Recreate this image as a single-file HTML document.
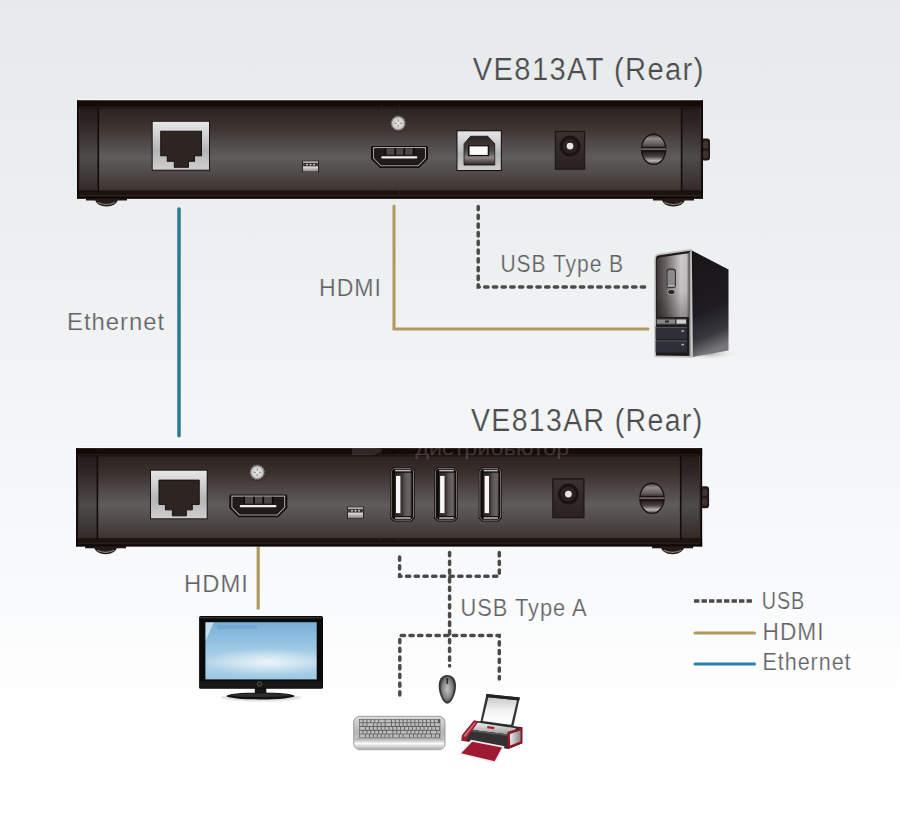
<!DOCTYPE html>
<html><head><meta charset="utf-8"><title>VE813 diagram</title>
<style>html,body{margin:0;padding:0;background:#fff;overflow:hidden}svg{display:block}</style>
</head><body><svg width="900" height="817" viewBox="0 0 900 817"><defs>
<linearGradient id="bg" x1="0" y1="0" x2="0" y2="1">
 <stop offset="0" stop-color="#e7eaeb"/><stop offset="0.3" stop-color="#edf0f0"/><stop offset="0.55" stop-color="#f4f6f7"/><stop offset="0.75" stop-color="#fafbfc"/><stop offset="0.87" stop-color="#ffffff"/><stop offset="1" stop-color="#ffffff"/>
</linearGradient>
<linearGradient id="bodyg" x1="0" y1="0" x2="0" y2="1">
 <stop offset="0.08" stop-color="#2c2220"/><stop offset="0.25" stop-color="#3a302e"/><stop offset="0.42" stop-color="#4e4846"/><stop offset="0.58" stop-color="#5f5c5b"/><stop offset="0.72" stop-color="#524d4b"/><stop offset="0.85" stop-color="#463c3a"/><stop offset="0.92" stop-color="#3d3331"/>
</linearGradient>
<linearGradient id="capg" x1="0" y1="0" x2="0" y2="1">
 <stop offset="0.08" stop-color="#241a18"/><stop offset="0.3" stop-color="#332927"/><stop offset="0.58" stop-color="#4d4846"/><stop offset="0.8" stop-color="#3a302e"/><stop offset="0.92" stop-color="#2a201e"/>
</linearGradient>
<linearGradient id="silverg" x1="0" y1="0" x2="0" y2="1">
 <stop offset="0" stop-color="#e6e6e6"/><stop offset="0.3" stop-color="#d0d0d0"/><stop offset="0.6" stop-color="#b4b4b4"/><stop offset="1" stop-color="#cfcfcf"/>
</linearGradient>
<linearGradient id="usbbg" x1="0" y1="0" x2="0" y2="1">
 <stop offset="0" stop-color="#2a2220"/><stop offset="0.5" stop-color="#4a4644"/><stop offset="0.75" stop-color="#8a8684"/><stop offset="1" stop-color="#2a2220"/>
</linearGradient>
<linearGradient id="jackg" x1="0" y1="0" x2="0" y2="1">
 <stop offset="0" stop-color="#3a3230"/><stop offset="1" stop-color="#2a2220"/>
</linearGradient>
<linearGradient id="usbag" x1="0" y1="0" x2="1" y2="0">
 <stop offset="0" stop-color="#2a2422"/><stop offset="0.45" stop-color="#3a3432"/><stop offset="0.6" stop-color="#5a5452"/><stop offset="0.85" stop-color="#6a6462"/><stop offset="1" stop-color="#3a3432"/>
</linearGradient>
<radialGradient id="screwg" cx="0.5" cy="0.5" r="0.55">
 <stop offset="0" stop-color="#eeeeee"/><stop offset="0.75" stop-color="#cfcdcb"/><stop offset="1" stop-color="#8a8684"/>
</radialGradient>
<linearGradient id="bigscrewg" x1="0" y1="0" x2="0" y2="1">
 <stop offset="0" stop-color="#4a4240"/><stop offset="0.12" stop-color="#8e8a88"/><stop offset="0.3" stop-color="#6a6462"/><stop offset="0.44" stop-color="#3e3634"/><stop offset="0.56" stop-color="#1e1614"/><stop offset="0.75" stop-color="#4a4442"/><stop offset="0.9" stop-color="#b8b4b2"/><stop offset="1" stop-color="#5a5452"/>
</linearGradient>
<linearGradient id="ledg" x1="0" y1="0" x2="0" y2="1">
 <stop offset="0" stop-color="#a8a4a2"/><stop offset="0.6" stop-color="#d6d4d2"/><stop offset="1" stop-color="#8a8482"/>
</linearGradient>
<linearGradient id="footg" x1="0" y1="0" x2="0" y2="1">
 <stop offset="0" stop-color="#2a2220"/><stop offset="1" stop-color="#8a8482"/>
</linearGradient>
<linearGradient id="screeng" x1="0" y1="0" x2="0" y2="1">
 <stop offset="0" stop-color="#78aed6"/><stop offset="0.35" stop-color="#94c2e0"/><stop offset="0.7" stop-color="#b4d6ea"/><stop offset="1" stop-color="#9cc8e2"/>
</linearGradient>

<linearGradient id="pcside" x1="0" y1="0" x2="0.15" y2="1">
 <stop offset="0" stop-color="#1a1416"/><stop offset="0.6" stop-color="#1e1c22"/><stop offset="0.85" stop-color="#38383e"/><stop offset="1" stop-color="#76767a"/>
</linearGradient>
<radialGradient id="mouseg" cx="0.5" cy="0.5" r="0.6">
 <stop offset="0" stop-color="#c4c2c2"/><stop offset="0.6" stop-color="#868484"/><stop offset="1" stop-color="#444242"/>
</radialGradient>
<linearGradient id="kbg" x1="0" y1="0" x2="0" y2="1">
 <stop offset="0" stop-color="#dcdcdc"/><stop offset="0.5" stop-color="#b4b4b4"/><stop offset="1" stop-color="#e8e8e8"/>
</linearGradient>

<radialGradient id="glowg" cx="0.5" cy="0.5" r="0.5"><stop offset="0" stop-color="#ffffff" stop-opacity="0.75"/><stop offset="1" stop-color="#ffffff" stop-opacity="0"/></radialGradient>
<linearGradient id="pcfront" x1="0" y1="0" x2="1" y2="0"><stop offset="0" stop-color="#3e3838"/><stop offset="0.3" stop-color="#6e6868"/><stop offset="0.75" stop-color="#cfcccc"/><stop offset="0.92" stop-color="#c4c2c2"/><stop offset="1" stop-color="#7a7878"/></linearGradient>
<linearGradient id="pcfrontv" x1="0" y1="0" x2="0" y2="1"><stop offset="0" stop-color="#000" stop-opacity="0"/><stop offset="0.6" stop-color="#000" stop-opacity="0.05"/><stop offset="1" stop-color="#000" stop-opacity="0.3"/></linearGradient>
<linearGradient id="pcside2" x1="0" y1="0" x2="1" y2="0"><stop offset="0" stop-color="#000" stop-opacity="0.15"/><stop offset="0.2" stop-color="#000" stop-opacity="0"/><stop offset="1" stop-color="#000" stop-opacity="0"/></linearGradient>
<linearGradient id="prtop" x1="0" y1="0" x2="0" y2="1"><stop offset="0" stop-color="#f0f0f0"/><stop offset="1" stop-color="#9a9898"/></linearGradient>
<linearGradient id="prside" x1="0" y1="0" x2="1" y2="0"><stop offset="0" stop-color="#e8e8e8"/><stop offset="1" stop-color="#8a8888"/></linearGradient>
<clipPath id="scrclip"><rect x="205.4" y="622.2" width="111.3" height="57.2"/></clipPath>
<radialGradient id="shadowg" cx="0.5" cy="0.5" r="0.5">
 <stop offset="0" stop-color="#9a9898" stop-opacity="0.8"/><stop offset="1" stop-color="#ffffff" stop-opacity="0"/>
</radialGradient>
<linearGradient id="kblip" x1="0" y1="0" x2="0" y2="1">
 <stop offset="0" stop-color="#a0a0a0"/><stop offset="0.5" stop-color="#fafafa"/><stop offset="1" stop-color="#b0b0b0"/>
</linearGradient>
<linearGradient id="paperg" x1="0" y1="0" x2="0" y2="1">
 <stop offset="0" stop-color="#c8c8c8"/><stop offset="0.5" stop-color="#f4f4f4"/><stop offset="1" stop-color="#ffffff"/>
</linearGradient>
</defs><rect x="0" y="0" width="900" height="817" fill="url(#bg)"/><line x1="179" y1="209" x2="179" y2="435.7" stroke="#2b7b8f" stroke-width="3.5" stroke-linecap="round"/><polyline points="394,206 394,329 648,329" fill="none" stroke="#ae9a5c" stroke-width="3" stroke-linecap="round"/><polyline points="478.2,206.5 478.2,287 646,287" fill="none" stroke="#4a4a4a" stroke-width="3.5" stroke-dasharray="3.3 5.4" stroke-linecap="round"/><line x1="258.2" y1="546.5" x2="258.2" y2="609.5" stroke="#ae9a5c" stroke-width="3.2"/><polyline points="399.6,557 399.6,576.2 499.3,576.2 499.3,552" fill="none" stroke="#4a4a4a" stroke-width="3.5" stroke-dasharray="3.3 5.4" stroke-linecap="round"/><line x1="449.6" y1="552.5" x2="449.6" y2="666" stroke="#4a4a4a" stroke-width="3.5" stroke-dasharray="3.3 5.4" stroke-linecap="round"/><polyline points="399.8,695 399.8,635.5 499.3,635.5 499.3,679" fill="none" stroke="#4a4a4a" stroke-width="3.5" stroke-dasharray="3.3 5.4" stroke-linecap="round"/><line x1="694" y1="601" x2="752" y2="601" stroke="#4a4a4a" stroke-width="3.4" stroke-dasharray="5.4 2.1"/><line x1="695" y1="633" x2="754.5" y2="633" stroke="#ae9a5c" stroke-width="3" stroke-linecap="round"/><line x1="695" y1="664" x2="754.5" y2="664" stroke="#2d7fae" stroke-width="3" stroke-linecap="round"/><g transform="translate(77,100.5)"><rect x="9" y="97" width="41" height="3" fill="#1e1614"/><path d="M18,98 A11.5,8 0 0 0 41,98 Z" fill="#231b19"/><path d="M21,102 Q29.5,106 38,102" stroke="#8a8482" stroke-width="1.2" fill="none"/><rect x="576" y="97" width="41" height="3" fill="#1e1614"/><path d="M584.7,98 A11.7,8 0 0 0 608.1,98 Z" fill="#231b19"/><path d="M587.5,102 Q596.4,106 605.3,102" stroke="#8a8482" stroke-width="1.2" fill="none"/><rect x="624" y="38" width="9" height="22" rx="3" fill="#231a18"/><rect x="626" y="40.5" width="5" height="7.5" rx="2" fill="#3e3432"/><rect x="626" y="50" width="5" height="7.5" rx="2" fill="#3e3432"/><rect x="1" y="-1.2" width="624" height="1" fill="#ffffff" opacity="0.8"/><rect x="0" y="0" width="626" height="98" fill="url(#bodyg)"/><rect x="2" y="0" width="19" height="98" fill="#000" opacity="0.18"/><rect x="605" y="0" width="19" height="98" fill="#000" opacity="0.18"/><rect x="20.5" y="5" width="1.6" height="88" fill="#130a09"/><rect x="603.8" y="5" width="1.6" height="88" fill="#130a09"/><rect x="0" y="0" width="626" height="6.5" fill="#140a08"/><rect x="0" y="6" width="626" height="1" fill="#2a1f1d"/><rect x="0" y="7" width="626" height="1" fill="#1a100e"/><rect x="0" y="90" width="626" height="1.2" fill="#120806"/><rect x="0" y="91.2" width="626" height="6.8" fill="#1c1210"/><rect x="0" y="94.5" width="626" height="1" fill="#2e2422"/><rect x="0" y="96.5" width="626" height="1.5" fill="#0e0605"/><rect x="304" y="5" width="1" height="3" fill="#2e2422"/><rect x="304" y="90" width="1" height="3" fill="#2e2422"/><rect x="322" y="5" width="1" height="3" fill="#2e2422"/><rect x="322" y="90" width="1" height="3" fill="#2e2422"/><rect x="0" y="0" width="1.8" height="98" fill="#0e0605"/><rect x="624.2" y="0" width="1.8" height="98" fill="#0e0605"/><rect x="2.2" y="8" width="0.8" height="82" fill="#3a302e"/><rect x="623" y="8" width="0.8" height="82" fill="#3a302e"/></g><g transform="translate(152.7,121.8) scale(1.005357142857143,0.9979166666666665)"><rect x="-1" y="-1" width="58" height="50" fill="#1a1210"/><rect x="0" y="0" width="56" height="48" fill="url(#silverg)"/><path d="M8,9.5 H48.5 V34 H41.5 V39.5 H35.5 V45.5 H21.5 V39.5 H14.5 V34 H8 Z" fill="#2e2422" stroke="#141010" stroke-width="1"/></g><g transform="translate(302,160.7) scale(1.0,1.0272727272727282)"><rect x="0" y="0" width="17" height="11" fill="#2a2220"/><rect x="1" y="0.5" width="15" height="10" fill="url(#ledg)"/><rect x="1.2" y="2.2" width="14.6" height="3.2" fill="#3a3230"/><circle cx="5" cy="3.8" r="0.9" fill="#d8d8d8"/><circle cx="8.5" cy="3.8" r="0.9" fill="#d8d8d8"/><circle cx="12" cy="3.8" r="0.9" fill="#d8d8d8"/></g><circle cx="398.2" cy="123.3" r="8.6" fill="#3a3230"/><circle cx="398.2" cy="123.3" r="7.8" fill="#7a7472" stroke="#2e2624" stroke-width="1.2" stroke-dasharray="1.5 1.5"/><circle cx="398.2" cy="123.3" r="6.4" fill="url(#screwg)"/><path d="M398.2,119.3 V127.3 M394.2,123.3 H402.2" stroke="#9a9694" stroke-width="1.2"/><circle cx="398.2" cy="123.3" r="1.2" fill="#f8f8f8"/><g transform="translate(371,146) scale(1.0,1.0)"><path d="M1.5,0 H55.5 Q57,0 57,1.5 V13 L48,22 H9 L0,13 V1.5 Q0,0 1.5,0 Z" fill="#120c0b"/><path d="M2.6,1.6 H54.4 V12.4 L47.2,19.8 H9.8 L2.6,12.4 Z" fill="none" stroke="#a8a4a2" stroke-width="1.1"/><path d="M3.6,2.6 H53.4 V11.8 L46.7,18.6 H10.3 L3.6,11.8 Z" fill="#221a18"/><rect x="14" y="2.4" width="29" height="6.4" fill="#4e4644"/><rect x="13.6" y="2.2" width="1.8" height="6.8" fill="#0e0a09"/><rect x="23.4" y="2.2" width="1.8" height="6.8" fill="#0e0a09"/><rect x="32.4" y="2.2" width="1.8" height="6.8" fill="#0e0a09"/><rect x="41.8" y="2.2" width="1.8" height="6.8" fill="#0e0a09"/><rect x="10.3" y="10.2" width="36" height="2.2" rx="1" fill="#efedeb"/></g><g transform="translate(457.5,131.3) scale(1.0069767441860469,0.992307692307692)"><rect x="-1" y="-1" width="45" height="41" fill="#141010"/><rect x="0" y="0" width="43" height="39" fill="url(#silverg)"/><path d="M13,5 H30 L37,12.5 V34 H6.5 V12.5 Z" fill="url(#usbbg)" stroke="#1a1414" stroke-width="0.8"/><rect x="10.5" y="14" width="21" height="11" fill="#151010"/><rect x="12" y="15.2" width="18" height="8.6" fill="#fbfbfb"/></g><rect x="555.3" y="131.3" width="29.40000000000009" height="37.89999999999998" fill="#2c2321" stroke="#191211" stroke-width="1"/><rect x="556.3" y="132.3" width="27.40000000000009" height="35.89999999999998" fill="url(#jackg)"/><circle cx="570.0" cy="146.08100000000002" r="10.5" fill="#1a1312"/><circle cx="570.0" cy="146.08100000000002" r="7.5" fill="#2a2120"/><circle cx="570.0" cy="146.08100000000002" r="3.4" fill="#e6e4e2"/><ellipse cx="653.6" cy="149.3" rx="12.8" ry="15.8" fill="#1a1211"/><ellipse cx="653.6" cy="149.3" rx="11.4" ry="14.4" fill="url(#bigscrewg)"/><rect x="641.0" y="146.9" width="25.2" height="1.4" fill="#1a1211"/><rect x="641.0" y="148.3" width="25.2" height="2" fill="#6a6462"/><rect x="641.0" y="150.3" width="25.2" height="1.4" fill="#1a1211"/><g transform="translate(76.1,448.3)"><rect x="9" y="97" width="41" height="3" fill="#1e1614"/><path d="M18,98 A11.5,8 0 0 0 41,98 Z" fill="#231b19"/><path d="M21,102 Q29.5,106 38,102" stroke="#8a8482" stroke-width="1.2" fill="none"/><rect x="576" y="97" width="41" height="3" fill="#1e1614"/><path d="M584.7,98 A11.7,8 0 0 0 608.1,98 Z" fill="#231b19"/><path d="M587.5,102 Q596.4,106 605.3,102" stroke="#8a8482" stroke-width="1.2" fill="none"/><rect x="624" y="38" width="9" height="22" rx="3" fill="#231a18"/><rect x="626" y="40.5" width="5" height="7.5" rx="2" fill="#3e3432"/><rect x="626" y="50" width="5" height="7.5" rx="2" fill="#3e3432"/><rect x="1" y="-1.2" width="624" height="1" fill="#ffffff" opacity="0.8"/><rect x="0" y="0" width="626" height="98" fill="url(#bodyg)"/><rect x="2" y="0" width="19" height="98" fill="#000" opacity="0.18"/><rect x="605" y="0" width="19" height="98" fill="#000" opacity="0.18"/><rect x="20.5" y="5" width="1.6" height="88" fill="#130a09"/><rect x="603.8" y="5" width="1.6" height="88" fill="#130a09"/><rect x="0" y="0" width="626" height="6.5" fill="#140a08"/><rect x="0" y="6" width="626" height="1" fill="#2a1f1d"/><rect x="0" y="7" width="626" height="1" fill="#1a100e"/><rect x="0" y="90" width="626" height="1.2" fill="#120806"/><rect x="0" y="91.2" width="626" height="6.8" fill="#1c1210"/><rect x="0" y="94.5" width="626" height="1" fill="#2e2422"/><rect x="0" y="96.5" width="626" height="1.5" fill="#0e0605"/><rect x="304" y="5" width="1" height="3" fill="#2e2422"/><rect x="304" y="90" width="1" height="3" fill="#2e2422"/><rect x="322" y="5" width="1" height="3" fill="#2e2422"/><rect x="322" y="90" width="1" height="3" fill="#2e2422"/><rect x="0" y="0" width="1.8" height="98" fill="#0e0605"/><rect x="624.2" y="0" width="1.8" height="98" fill="#0e0605"/><rect x="2.2" y="8" width="0.8" height="82" fill="#3a302e"/><rect x="623" y="8" width="0.8" height="82" fill="#3a302e"/></g><g transform="translate(151,470.7) scale(0.9946428571428569,0.9916666666666659)"><rect x="-1" y="-1" width="58" height="50" fill="#1a1210"/><rect x="0" y="0" width="56" height="48" fill="url(#silverg)"/><path d="M8,9.5 H48.5 V34 H41.5 V39.5 H35.5 V45.5 H21.5 V39.5 H14.5 V34 H8 Z" fill="#2e2422" stroke="#141010" stroke-width="1"/></g><circle cx="257.3" cy="472.3" r="8.6" fill="#3a3230"/><circle cx="257.3" cy="472.3" r="7.8" fill="#7a7472" stroke="#2e2624" stroke-width="1.2" stroke-dasharray="1.5 1.5"/><circle cx="257.3" cy="472.3" r="6.4" fill="url(#screwg)"/><path d="M257.3,468.3 V476.3 M253.3,472.3 H261.3" stroke="#9a9694" stroke-width="1.2"/><circle cx="257.3" cy="472.3" r="1.2" fill="#f8f8f8"/><g transform="translate(229.3,494.5) scale(1.0175438596491229,1.0363636363636344)"><path d="M1.5,0 H55.5 Q57,0 57,1.5 V13 L48,22 H9 L0,13 V1.5 Q0,0 1.5,0 Z" fill="#120c0b"/><path d="M2.6,1.6 H54.4 V12.4 L47.2,19.8 H9.8 L2.6,12.4 Z" fill="none" stroke="#a8a4a2" stroke-width="1.1"/><path d="M3.6,2.6 H53.4 V11.8 L46.7,18.6 H10.3 L3.6,11.8 Z" fill="#221a18"/><rect x="14" y="2.4" width="29" height="6.4" fill="#4e4644"/><rect x="13.6" y="2.2" width="1.8" height="6.8" fill="#0e0a09"/><rect x="23.4" y="2.2" width="1.8" height="6.8" fill="#0e0a09"/><rect x="32.4" y="2.2" width="1.8" height="6.8" fill="#0e0a09"/><rect x="41.8" y="2.2" width="1.8" height="6.8" fill="#0e0a09"/><rect x="10.3" y="10.2" width="36" height="2.2" rx="1" fill="#efedeb"/></g><g transform="translate(347,506.7) scale(1.0,1.0727272727272739)"><rect x="0" y="0" width="17" height="11" fill="#2a2220"/><rect x="1" y="0.5" width="15" height="10" fill="url(#ledg)"/><rect x="1.2" y="2.2" width="14.6" height="3.2" fill="#3a3230"/><circle cx="5" cy="3.8" r="0.9" fill="#d8d8d8"/><circle cx="8.5" cy="3.8" r="0.9" fill="#d8d8d8"/><circle cx="12" cy="3.8" r="0.9" fill="#d8d8d8"/></g><path d="M393.3,467.2 H411.5 L414.7,470.4 V518.1999999999999 L411.5,521.4 H393.3 L390.1,518.1999999999999 V470.4 Z" fill="#120c0b"/><path d="M393.90000000000003,468.4 H410.9 L413.5,471.0 V517.5999999999999 L410.9,520.1999999999999 H393.90000000000003 L391.3,517.5999999999999 V471.0 Z" fill="none" stroke="#7a7472" stroke-width="1"/><rect x="394.40000000000003" y="472.2" width="17.599999999999966" height="44.19999999999999" fill="url(#usbag)" stroke="#0e0a0a" stroke-width="0.8"/><rect x="395.1" y="469.8" width="15.599999999999966" height="1.6" fill="#b8b4b2"/><rect x="395.1" y="517.1999999999999" width="15.599999999999966" height="1.6" fill="#b8b4b2"/><rect x="396.0" y="475.9" width="4.4" height="37.19999999999999" fill="#f6f6f6"/><path d="M437.4,467.2 H454.6 L457.8,470.4 V518.1999999999999 L454.6,521.4 H437.4 L434.2,518.1999999999999 V470.4 Z" fill="#120c0b"/><path d="M438.0,468.4 H454.0 L456.6,471.0 V517.5999999999999 L454.0,520.1999999999999 H438.0 L435.4,517.5999999999999 V471.0 Z" fill="none" stroke="#7a7472" stroke-width="1"/><rect x="438.5" y="472.2" width="16.600000000000023" height="44.19999999999999" fill="url(#usbag)" stroke="#0e0a0a" stroke-width="0.8"/><rect x="439.2" y="469.8" width="14.600000000000023" height="1.6" fill="#b8b4b2"/><rect x="439.2" y="517.1999999999999" width="14.600000000000023" height="1.6" fill="#b8b4b2"/><rect x="440.09999999999997" y="475.9" width="4.4" height="37.19999999999999" fill="#f6f6f6"/><path d="M481.9,467.2 H498.6 L501.8,470.4 V518.1999999999999 L498.6,521.4 H481.9 L478.7,518.1999999999999 V470.4 Z" fill="#120c0b"/><path d="M482.5,468.4 H498.0 L500.6,471.0 V517.5999999999999 L498.0,520.1999999999999 H482.5 L479.9,517.5999999999999 V471.0 Z" fill="none" stroke="#7a7472" stroke-width="1"/><rect x="483.0" y="472.2" width="16.100000000000023" height="44.19999999999999" fill="url(#usbag)" stroke="#0e0a0a" stroke-width="0.8"/><rect x="483.7" y="469.8" width="14.100000000000023" height="1.6" fill="#b8b4b2"/><rect x="483.7" y="517.1999999999999" width="14.100000000000023" height="1.6" fill="#b8b4b2"/><rect x="484.59999999999997" y="475.9" width="4.4" height="37.19999999999999" fill="#f6f6f6"/><rect x="552.8" y="478.9" width="31.200000000000045" height="38.89999999999998" fill="#2c2321" stroke="#191211" stroke-width="1"/><rect x="553.8" y="479.9" width="29.200000000000045" height="36.89999999999998" fill="url(#jackg)"/><circle cx="568.4" cy="494.07099999999997" r="10.5" fill="#1a1312"/><circle cx="568.4" cy="494.07099999999997" r="7.5" fill="#2a2120"/><circle cx="568.4" cy="494.07099999999997" r="3.4" fill="#e6e4e2"/><ellipse cx="652" cy="498.3" rx="12.8" ry="15.8" fill="#1a1211"/><ellipse cx="652" cy="498.3" rx="11.4" ry="14.4" fill="url(#bigscrewg)"/><rect x="639.4" y="495.90000000000003" width="25.2" height="1.4" fill="#1a1211"/><rect x="639.4" y="497.3" width="25.2" height="2" fill="#6a6462"/><rect x="639.4" y="499.3" width="25.2" height="1.4" fill="#1a1211"/><text x="415.3" y="454.5" font-family="Liberation Sans, sans-serif" font-size="19" textLength="154" lengthAdjust="spacingAndGlyphs" fill="#ffffff" opacity="0.17">дистрибьютор</text><path d="M352,448.3 H372 Q386,448.3 381,452 Q376,455 368,455 H352 Z" fill="#ffffff" opacity="0.12"/><g><ellipse cx="708" cy="354" rx="34" ry="6" fill="url(#shadowg)"/><path d="M690,249.5 L728.5,269.5 L728.5,350.5 L690,357.5 Z" fill="url(#pcside)"/><path d="M690,249.5 L728.5,269.5 L728.5,350.5 L690,357.5 Z" fill="url(#pcside2)"/><path d="M657.5,253.8 L691.8,248.8 L693,357.8 L654.3,357.3 L654.3,258 Q654.5,254.5 657.5,253.8 Z" fill="#c4c2c2"/><path d="M658,255.6 L690.2,250.8 L691,356 L656,355.6 L655.8,259 Q656,256 658,255.6 Z" fill="#1e1a1a"/><path d="M659,257.5 L688.8,253.2 L689,317 L656.8,317 L656.8,261 Q657,258 659,257.5 Z" fill="url(#pcfront)"/><path d="M659,257.5 L688.8,253.2 L689,317 L656.8,317 L656.8,261 Q657,258 659,257.5 Z" fill="url(#pcfrontv)"/><rect x="666.5" y="268.6" width="9.5" height="19.5" rx="3.2" fill="#3a3434"/><rect x="667.6" y="270" width="7.3" height="15.5" rx="2.2" fill="#8a8a8a"/><rect x="667.6" y="285.2" width="7.3" height="1.4" fill="#d0d0d0"/><ellipse cx="671.3" cy="292" rx="3.8" ry="2.6" fill="#2a2626" stroke="#bdbdbd" stroke-width="0.8"/><rect x="656" y="318.3" width="31" height="6.6" fill="#3a3838"/><rect x="657" y="319.5" width="18" height="4.2" fill="#8a8888"/><rect x="676.5" y="319.5" width="9.5" height="4.2" fill="#d0cfcf"/><rect x="665" y="320.5" width="4" height="2" fill="#2a2a2a"/><rect x="655.6" y="326.9" width="31.3" height="12.2" fill="#2e3038"/><rect x="655.6" y="326.9" width="31.3" height="0.9" fill="#5a5c64"/><rect x="655.6" y="340.5" width="31.3" height="12" fill="#2e3038"/><rect x="655.6" y="340.5" width="31.3" height="0.9" fill="#5a5c64"/><rect x="681.4" y="330.3" width="2.6" height="1.6" fill="#b0b0b0"/><rect x="681.4" y="343.8" width="2.6" height="1.6" fill="#b0b0b0"/><rect x="689.5" y="252" width="1.4" height="104" fill="#b8b6b6"/></g><g><ellipse cx="261" cy="697.5" rx="40" ry="4" fill="#d0d0d0" opacity="0.6"/><rect x="254.8" y="687" width="11.5" height="8" fill="#151515"/><ellipse cx="260.5" cy="696" rx="34" ry="3.4" fill="#111"/><ellipse cx="260.5" cy="695.2" rx="30" ry="1.8" fill="#2e2e2e"/><rect x="199.1" y="616" width="123.9" height="72.8" rx="1.5" fill="#0a0a0a"/><rect x="200" y="617" width="122" height="1.5" fill="#303030"/><rect x="200" y="681" width="122" height="7" fill="#161616"/><rect x="205.4" y="622.2" width="111.3" height="57.2" fill="url(#screeng)"/><g clip-path="url(#scrclip)"><ellipse cx="268" cy="662" rx="62" ry="14" fill="url(#glowg)"/><path d="M205.4,622.2 L214,622.2 L205.4,641 Z" fill="#ffffff" opacity="0.55"/><rect x="217" y="625" width="40" height="4" fill="#3a7ab8" opacity="0.18"/></g><circle cx="259.5" cy="684" r="2.3" fill="#222" stroke="#666" stroke-width="0.7"/></g><g><path d="M447.3,675 C453.5,675 456,680 456,686 C456,694 451.5,703.7 447.3,703.7 C443.1,703.7 438.7,694 438.7,686 C438.7,680 441.1,675 447.3,675 Z" fill="#383636"/><path d="M447.3,676.6 C452,676.6 454,681 454,686.5 C454,693.5 450.5,701.6 447.3,701.6 C444.1,701.6 440.7,693.5 440.7,686.5 C440.7,681 442.6,676.6 447.3,676.6 Z" fill="url(#mouseg)"/><rect x="446.5" y="678" width="1.6" height="6" rx="0.8" fill="#2a2828"/></g><g><rect x="353.7" y="716.3" width="91.3" height="33.4" rx="6" fill="url(#kbg)" stroke="#8a8a8a" stroke-width="0.8"/><rect x="359" y="719" width="81.3" height="18.7" fill="#606060"/><rect x="359.6" y="719.6" width="3.0" height="2.8" fill="#bdbdbd"/><rect x="363.5" y="719.6" width="3.0" height="2.8" fill="#bdbdbd"/><rect x="367.4" y="719.6" width="3.0" height="2.8" fill="#bdbdbd"/><rect x="371.3" y="719.6" width="3.0" height="2.8" fill="#bdbdbd"/><rect x="375.2" y="719.6" width="3.0" height="2.8" fill="#bdbdbd"/><rect x="379.1" y="719.6" width="5.5" height="2.8" fill="#bdbdbd"/><rect x="385.5" y="719.6" width="5.5" height="2.8" fill="#bdbdbd"/><rect x="391.9" y="719.6" width="3.0" height="2.8" fill="#bdbdbd"/><rect x="395.8" y="719.6" width="3.0" height="2.8" fill="#bdbdbd"/><rect x="399.7" y="719.6" width="3.0" height="2.8" fill="#bdbdbd"/><rect x="403.6" y="719.6" width="3.0" height="2.8" fill="#bdbdbd"/><rect x="407.5" y="719.6" width="3.0" height="2.8" fill="#bdbdbd"/><rect x="411.4" y="719.6" width="3.0" height="2.8" fill="#bdbdbd"/><rect x="415.3" y="719.6" width="3.0" height="2.8" fill="#bdbdbd"/><rect x="419.2" y="719.6" width="3.0" height="2.8" fill="#bdbdbd"/><rect x="423.1" y="719.6" width="3.0" height="2.8" fill="#bdbdbd"/><rect x="427.0" y="719.6" width="3.0" height="2.8" fill="#bdbdbd"/><rect x="430.9" y="719.6" width="3.0" height="2.8" fill="#bdbdbd"/><rect x="434.8" y="719.6" width="3.0" height="2.8" fill="#bdbdbd"/><rect x="359.6" y="723.2" width="3.0" height="2.8" fill="#bdbdbd"/><rect x="363.5" y="723.2" width="3.0" height="2.8" fill="#bdbdbd"/><rect x="367.4" y="723.2" width="5.5" height="2.8" fill="#bdbdbd"/><rect x="373.8" y="723.2" width="3.0" height="2.8" fill="#bdbdbd"/><rect x="377.7" y="723.2" width="3.0" height="2.8" fill="#bdbdbd"/><rect x="381.6" y="723.2" width="3.0" height="2.8" fill="#bdbdbd"/><rect x="385.5" y="723.2" width="5.5" height="2.8" fill="#bdbdbd"/><rect x="391.9" y="723.2" width="3.0" height="2.8" fill="#bdbdbd"/><rect x="395.8" y="723.2" width="3.0" height="2.8" fill="#bdbdbd"/><rect x="399.7" y="723.2" width="3.0" height="2.8" fill="#bdbdbd"/><rect x="403.6" y="723.2" width="3.0" height="2.8" fill="#bdbdbd"/><rect x="407.5" y="723.2" width="3.0" height="2.8" fill="#bdbdbd"/><rect x="411.4" y="723.2" width="3.0" height="2.8" fill="#bdbdbd"/><rect x="415.3" y="723.2" width="3.0" height="2.8" fill="#bdbdbd"/><rect x="419.2" y="723.2" width="3.0" height="2.8" fill="#bdbdbd"/><rect x="423.1" y="723.2" width="3.0" height="2.8" fill="#bdbdbd"/><rect x="427.0" y="723.2" width="3.0" height="2.8" fill="#bdbdbd"/><rect x="430.9" y="723.2" width="3.0" height="2.8" fill="#bdbdbd"/><rect x="434.8" y="723.2" width="5.0" height="2.8" fill="#bdbdbd"/><rect x="359.6" y="727.0" width="5.5" height="2.8" fill="#bdbdbd"/><rect x="366.0" y="727.0" width="3.0" height="2.8" fill="#bdbdbd"/><rect x="369.9" y="727.0" width="3.0" height="2.8" fill="#bdbdbd"/><rect x="373.8" y="727.0" width="3.0" height="2.8" fill="#bdbdbd"/><rect x="377.7" y="727.0" width="3.0" height="2.8" fill="#bdbdbd"/><rect x="381.6" y="727.0" width="3.0" height="2.8" fill="#bdbdbd"/><rect x="385.5" y="727.0" width="3.0" height="2.8" fill="#bdbdbd"/><rect x="389.4" y="727.0" width="3.0" height="2.8" fill="#bdbdbd"/><rect x="393.3" y="727.0" width="3.0" height="2.8" fill="#bdbdbd"/><rect x="397.2" y="727.0" width="3.0" height="2.8" fill="#bdbdbd"/><rect x="401.1" y="727.0" width="3.0" height="2.8" fill="#bdbdbd"/><rect x="405.0" y="727.0" width="3.0" height="2.8" fill="#bdbdbd"/><rect x="408.9" y="727.0" width="3.0" height="2.8" fill="#bdbdbd"/><rect x="412.8" y="727.0" width="3.0" height="2.8" fill="#bdbdbd"/><rect x="416.7" y="727.0" width="3.0" height="2.8" fill="#bdbdbd"/><rect x="420.6" y="727.0" width="3.0" height="2.8" fill="#bdbdbd"/><rect x="424.5" y="727.0" width="3.0" height="2.8" fill="#bdbdbd"/><rect x="428.4" y="727.0" width="3.0" height="2.8" fill="#bdbdbd"/><rect x="432.3" y="727.0" width="3.0" height="2.8" fill="#bdbdbd"/><rect x="436.2" y="727.0" width="3.0" height="2.8" fill="#bdbdbd"/><rect x="359.6" y="730.8" width="3.0" height="2.8" fill="#bdbdbd"/><rect x="363.5" y="730.8" width="3.0" height="2.8" fill="#bdbdbd"/><rect x="367.4" y="730.8" width="3.0" height="2.8" fill="#bdbdbd"/><rect x="371.3" y="730.8" width="3.0" height="2.8" fill="#bdbdbd"/><rect x="375.2" y="730.8" width="3.0" height="2.8" fill="#bdbdbd"/><rect x="379.1" y="730.8" width="3.0" height="2.8" fill="#bdbdbd"/><rect x="383.0" y="730.8" width="3.0" height="2.8" fill="#bdbdbd"/><rect x="386.9" y="730.8" width="5.5" height="2.8" fill="#bdbdbd"/><rect x="393.3" y="730.8" width="3.0" height="2.8" fill="#bdbdbd"/><rect x="397.2" y="730.8" width="3.0" height="2.8" fill="#bdbdbd"/><rect x="401.1" y="730.8" width="5.5" height="2.8" fill="#bdbdbd"/><rect x="407.5" y="730.8" width="3.0" height="2.8" fill="#bdbdbd"/><rect x="411.4" y="730.8" width="3.0" height="2.8" fill="#bdbdbd"/><rect x="415.3" y="730.8" width="3.0" height="2.8" fill="#bdbdbd"/><rect x="419.2" y="730.8" width="3.0" height="2.8" fill="#bdbdbd"/><rect x="423.1" y="730.8" width="3.0" height="2.8" fill="#bdbdbd"/><rect x="427.0" y="730.8" width="3.0" height="2.8" fill="#bdbdbd"/><rect x="430.9" y="730.8" width="5.5" height="2.8" fill="#bdbdbd"/><rect x="437.3" y="730.8" width="2.5" height="2.8" fill="#bdbdbd"/><rect x="359.6" y="734.4" width="5.5" height="2.8" fill="#bdbdbd"/><rect x="366.0" y="734.4" width="3.0" height="2.8" fill="#bdbdbd"/><rect x="369.9" y="734.4" width="3.0" height="2.8" fill="#bdbdbd"/><rect x="373.8" y="734.4" width="3.0" height="2.8" fill="#bdbdbd"/><rect x="377.7" y="734.4" width="3.0" height="2.8" fill="#bdbdbd"/><rect x="381.6" y="734.4" width="3.0" height="2.8" fill="#bdbdbd"/><rect x="385.5" y="734.4" width="3.0" height="2.8" fill="#bdbdbd"/><rect x="389.4" y="734.4" width="3.0" height="2.8" fill="#bdbdbd"/><rect x="393.3" y="734.4" width="5.5" height="2.8" fill="#bdbdbd"/><rect x="399.7" y="734.4" width="3.0" height="2.8" fill="#bdbdbd"/><rect x="403.6" y="734.4" width="5.5" height="2.8" fill="#bdbdbd"/><rect x="410.0" y="734.4" width="3.0" height="2.8" fill="#bdbdbd"/><rect x="413.9" y="734.4" width="3.0" height="2.8" fill="#bdbdbd"/><rect x="417.8" y="734.4" width="3.0" height="2.8" fill="#bdbdbd"/><rect x="421.7" y="734.4" width="3.0" height="2.8" fill="#bdbdbd"/><rect x="425.6" y="734.4" width="5.5" height="2.8" fill="#bdbdbd"/><rect x="432.0" y="734.4" width="3.0" height="2.8" fill="#bdbdbd"/><rect x="435.9" y="734.4" width="3.0" height="2.8" fill="#bdbdbd"/><rect x="354.5" y="738" width="89.5" height="11" rx="4" fill="url(#kblip)"/></g><g><path d="M486.5,694 L519.8,697.6 L513.2,727 L480.2,722.7 Z" fill="#333"/><path d="M488.4,697.2 L517,700.3 L511.2,724.8 L482.7,721 Z" fill="url(#paperg)"/><path d="M486.5,694 L519.8,697.6 L519.2,700.5 L486,697 Z" fill="#222"/><path d="M474,720.5 L522.3,727.2 L522.3,743.3 L508.3,749 L461.5,740.5 L462.3,735 Z" fill="#2e2c2c"/><path d="M477,722.5 L516,728.3 L512.5,735 L468.5,729.5 Z" fill="url(#prtop)"/><path d="M487.5,726 L494.5,727 L494,729.2 L487,728.2 Z" fill="#b01c34"/><path d="M468.5,729.5 L512.5,735 L508.5,748.5 L463,740 Z" fill="#333131"/><path d="M468.5,729.5 L512.5,735 L512,736.5 L468,731 Z" fill="#5a5858"/><path d="M461.8,735.5 L474,720.5 L478.5,721.5 L467.5,737.5 L466.5,741.5 L461.5,740.5 Z" fill="#a01a30"/><path d="M463.5,735.8 L474.5,722.2 L476,722.6 L465.5,737 Z" fill="#d8a0a8" opacity="0.6"/><path d="M507.5,732 L522.3,727.2 L522.3,743.3 L508.3,749 L507,741 Z" fill="#8e1828"/><path d="M509.8,734 L520.5,730.5 L520.5,741.5 L510.2,745.5 Z" fill="url(#prside)"/><path d="M471,739.8 L504.5,746.3 L496,763.3 L458,754.5 Z" fill="#f4eef0"/><path d="M472.2,741.8 L502,747.6 L494.6,761.2 L461.2,753.2 Z" fill="#9e1a30"/></g><g font-family='"Liberation Sans", sans-serif'><text x="472.70000000000005" y="80.3" font-size="31" letter-spacing="1.5" textLength="232.10000000000014" lengthAdjust="spacingAndGlyphs" fill="#4c4c4e" stroke="#e8eced" stroke-width="0.22">VE813AT (Rear)</text><text x="471.0" y="431.3" font-size="31" letter-spacing="1.5" textLength="232.5" lengthAdjust="spacingAndGlyphs" fill="#4c4c4e" stroke="#f3f5f6" stroke-width="0.22">VE813AR (Rear)</text><text x="67.0" y="330" font-size="24.5" letter-spacing="1" textLength="98.0" lengthAdjust="spacingAndGlyphs" fill="#636366" stroke="#f0f2f3" stroke-width="0.22">Ethernet</text><text x="319.0" y="295.8" font-size="23.3" letter-spacing="1" textLength="63.0" lengthAdjust="spacingAndGlyphs" fill="#636366" stroke="#eef1f2" stroke-width="0.22">HDMI</text><text x="500.49999999999994" y="271.8" font-size="23" letter-spacing="1" textLength="123.50000000000004" lengthAdjust="spacingAndGlyphs" fill="#636366" stroke="#eef1f2" stroke-width="0.22">USB Type B</text><text x="183.99999999999997" y="591.6" font-size="23.5" letter-spacing="1" textLength="65.00000000000003" lengthAdjust="spacingAndGlyphs" fill="#636366" stroke="#f9fafb" stroke-width="0.22">HDMI</text><text x="460.49999999999994" y="615.8" font-size="23" letter-spacing="1" textLength="126.99999999999986" lengthAdjust="spacingAndGlyphs" fill="#636366" stroke="#fafbfc" stroke-width="0.22">USB Type A</text><text x="761.8" y="608.5" font-size="23" letter-spacing="1" textLength="43.19999999999991" lengthAdjust="spacingAndGlyphs" fill="#636366" stroke="#fafbfc" stroke-width="0.22">USB</text><text x="762.4999999999998" y="639.8" font-size="23" letter-spacing="1" textLength="62.00000000000009" lengthAdjust="spacingAndGlyphs" fill="#636366" stroke="#fbfcfd" stroke-width="0.22">HDMI</text><text x="762.5000000000001" y="670.2" font-size="23" letter-spacing="1" textLength="89.0" lengthAdjust="spacingAndGlyphs" fill="#636366" stroke="#fdfdfe" stroke-width="0.22">Ethernet</text></g></svg></body></html>
